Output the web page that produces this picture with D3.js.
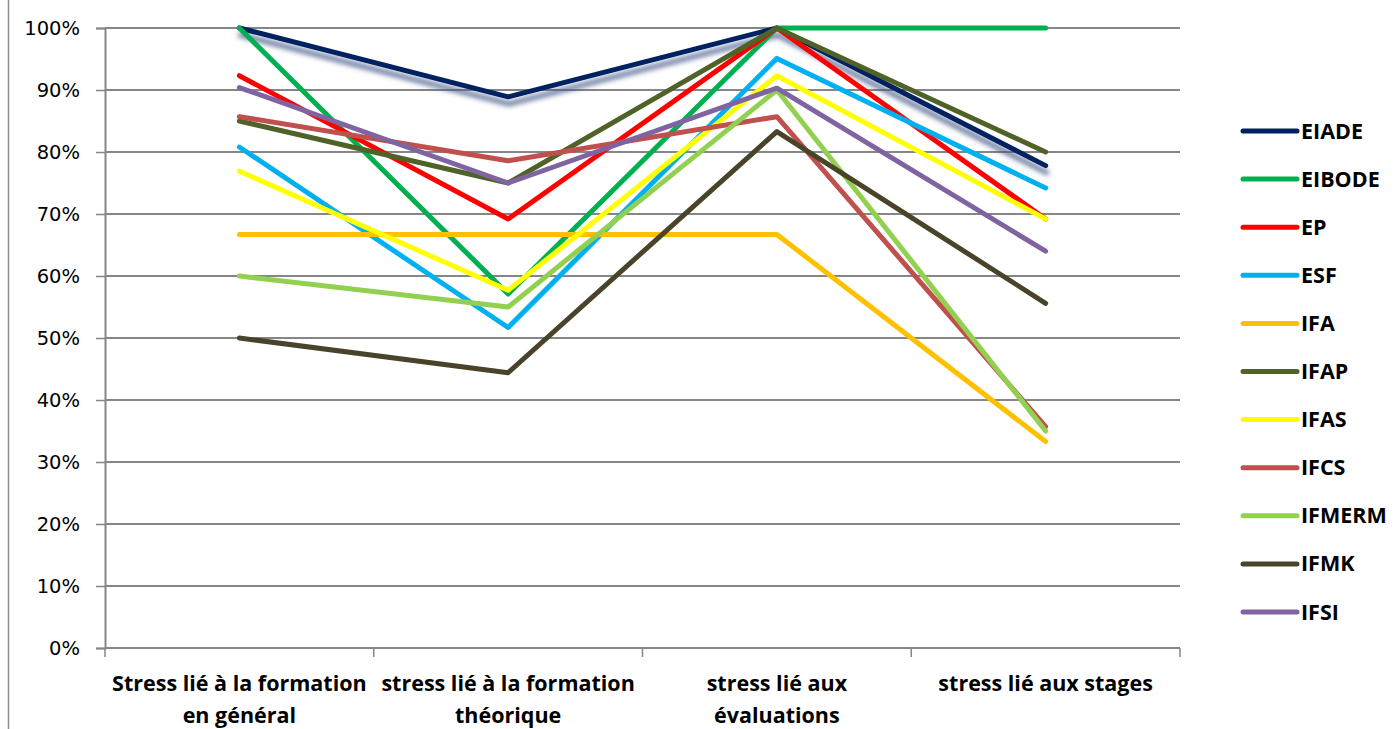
<!DOCTYPE html>
<html>
<head>
<meta charset="utf-8">
<script src="https://cdn.jsdelivr.net/npm/d3@7"></script>
<style>
  body { margin: 0; background: #fff; }
  svg { display: block; }
</style>
</head>
<body>
<svg id="chart" width="1396" height="729"></svg>
<script>
// Categories and series (values in %)
const categories = ["Stress lié à la formation en général", "stress lié à la formation théorique", "stress lié aux évaluations", "stress lié aux stages"];
const categoryLines = [["Stress lié à la formation", "en général"], ["stress lié à la formation", "théorique"], ["stress lié aux", "évaluations"], ["stress lié aux stages"]];
const seriesNames = ["EIADE", "EIBODE", "EP", "ESF", "IFA", "IFAP", "IFAS", "IFCS", "IFMERM", "IFMK", "IFSI"];
const seriesColors = ["#002060", "#00B050", "#FF0000", "#00B0F0", "#FFC000", "#4F6228", "#FFFF00", "#C0504D", "#92D050", "#494429", "#8064A2"];
const EIADE = [100, 88.9, 100, 77.8];
const EIBODE = [100, 57.1, 100, 100];
const EP = [92.3, 69.2, 100, 69.2];
const ESF = [80.8, 51.7, 95.1, 74.2];
const IFA = [66.7, 66.7, 66.7, 33.3];
const IFAP = [85, 75, 100, 80];
const IFAS = [76.9, 57.7, 92.3, 69.2];
const IFCS = [85.7, 78.6, 85.7, 35.7];
const IFMERM = [60, 55, 90, 35];
const IFMK = [50, 44.4, 83.3, 55.6];
const IFSI = [90.4, 75, 90.3, 64];
const seriesValues = [EIADE, EIBODE, EP, ESF, IFA, IFAP, IFAS, IFCS, IFMERM, IFMK, IFSI];
const yTicks = [0, 10, 20, 30, 40, 50, 60, 70, 80, 90, 100];

const svg = d3.select("#chart");
const GRID = "#868686";

// Chart frame (left edge visible)
svg.append("line").attr("x1", 8.5).attr("x2", 8.5).attr("y1", 0).attr("y2", 729)
    .attr("stroke", "#8c8c8c").attr("stroke-width", 1.5);

// Scales
const x = d3.scaleBand().domain(categories).range([105, 1180]);
const y = d3.scaleLinear().domain([0, 100]).range([648, 28]);

// Gridlines
svg.append("g").selectAll("line").data(yTicks.slice(1)).enter().append("line")
    .attr("x1", 105).attr("x2", 1180)
    .attr("y1", d => y(d)).attr("y2", d => y(d))
    .attr("stroke", GRID).attr("stroke-width", 2);

// Y axis
const yAxis = svg.append("g").attr("transform", "translate(105,0)")
    .call(d3.axisLeft(y).tickValues(yTicks).tickFormat(d => d + "%").tickSize(9).tickPadding(16));
yAxis.select(".domain").attr("stroke", GRID).attr("stroke-width", 2);
yAxis.selectAll(".tick line").attr("stroke", GRID).attr("stroke-width", 1.5);
yAxis.selectAll(".tick text").attr("font-family", "DejaVu Sans").attr("font-size", 19.5).attr("fill", "#000");

// X axis
svg.append("line").attr("x1", 105).attr("x2", 1180).attr("y1", 648).attr("y2", 648)
    .attr("stroke", GRID).attr("stroke-width", 2);
const bounds = categories.map(c => x(c)).concat([x.range()[1]]);
svg.append("g").selectAll("line").data(bounds).enter().append("line")
    .attr("x1", d => d).attr("x2", d => d).attr("y1", 648).attr("y2", 657)
    .attr("stroke", GRID).attr("stroke-width", 1.5);

// Category labels
categories.forEach(function(c, i) {
    const t = svg.append("text")
        .attr("x", x(c) + x.bandwidth() / 2)
        .attr("text-anchor", "middle")
        .attr("font-family", "Open Sans").attr("font-weight", "bold").attr("font-size", 21.5)
        .attr("fill", "#000");
    categoryLines[i].forEach(function(l, j) {
        t.append("tspan").attr("x", x(c) + x.bandwidth() / 2).attr("y", 691 + j * 32).text(l);
    });
});

// Shadow filter for EIADE
const defs = svg.append("defs");
const f = defs.append("filter").attr("id", "shadow").attr("x", "-10%").attr("y", "-20%").attr("width", "120%").attr("height", "160%");
f.append("feDropShadow").attr("dx", 1).attr("dy", 7).attr("stdDeviation", 2.8)
    .attr("flood-color", "#3E5485").attr("flood-opacity", 0.8);

// Lines
const line = d3.line()
    .x((d, i) => x(categories[i]) + x.bandwidth() / 2)
    .y(d => y(d));

seriesValues.forEach(function(vals, i) {
    svg.append("path")
        .datum(vals)
        .attr("d", line)
        .attr("fill", "none")
        .attr("stroke", seriesColors[i])
        .attr("stroke-width", 5)
        .attr("stroke-linecap", "round")
        .attr("stroke-linejoin", "round")
        .attr("filter", i === 0 ? "url(#shadow)" : null);
});

// Legend
const legend = svg.append("g").selectAll("g").data(seriesNames).enter().append("g")
    .attr("transform", (d, i) => "translate(0," + (131 + i * 48.1) + ")");
legend.append("line").attr("x1", 1243).attr("x2", 1297).attr("y1", 0).attr("y2", 0)
    .attr("stroke", (d, i) => seriesColors[i]).attr("stroke-width", 5).attr("stroke-linecap", "round");
legend.append("text").attr("x", 1301).attr("y", 7.5)
    .attr("font-family", "Open Sans").attr("font-weight", "bold").attr("font-size", 21.5)
    .attr("fill", "#000").text(d => d);
</script>
</body>
</html>
